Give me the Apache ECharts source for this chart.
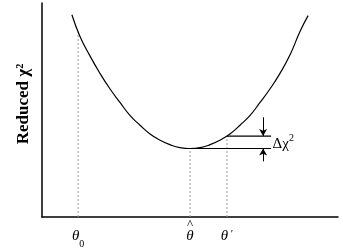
<!DOCTYPE html>
<html><head><meta charset="utf-8">
<script src="https://cdn.jsdelivr.net/npm/echarts@6/dist/echarts.min.js"></script>
<style>html,body{margin:0;padding:0;background:#fff}#c{width:343px;height:249px}</style>
</head><body><div id="c"></div>
<script>
// Curve (arbitrary theta units vs reduced chi^2 units)
const curveX = [10.1, 12.8, 16.2, 19.6, 23.0, 26.4, 29.7, 33.1, 36.5, 39.9, 43.2, 46.6, 50.0, 53.4, 56.8, 60.1, 63.5, 66.9, 70.3, 73.6, 77.0, 80.4, 83.8, 87.2, 89.9];
const curveY = [94.5, 84.5, 75.3, 67.1, 59.8, 53.4, 47.5, 42.9, 38.8, 35.9, 33.8, 32.4, 32.0, 32.4, 33.8, 35.9, 38.8, 42.9, 47.5, 53.4, 59.8, 67.1, 75.8, 86.8, 94.1];
// Marked parameter values and labels
const tickValues = [12.2, 50.0, 62.5];
const tickLabels = ['{h| }\n{t|θ}{s|0}', '{h|^}\n{t|θ}', '{h| }\n{t|θ}{p| ′}'];
const tickCurveY = [86.5, 32.0, 37.8];
// Delta chi^2 construction
const deltaEndX = 77.4;
const arrowX = 74.7;
const arrowUpperFrom = 46.6;
const arrowLowerFrom = 26.0;
const deltaLabelPos = [81.5, 34.8];

const chart = echarts.init(document.getElementById('c'), null, {renderer: 'canvas'});
const serif = 'Liberation Serif, Times New Roman, serif';

const series = [{
  type: 'line', data: curveX.map((x, i) => [x, curveY[i]]),
  smooth: 0.5, showSymbol: false, lineStyle: {color: '#000', width: 1.2}, z: 5
}];
tickValues.forEach((x, i) => {
  series.push({type: 'line', data: [[x, 0], [x, tickCurveY[i]]], showSymbol: false,
    lineStyle: {color: '#999', width: 1, type: [2, 2]}, z: 2});
});
series.push({type: 'line', data: [[tickValues[1], tickCurveY[1]], [deltaEndX, tickCurveY[1]]], showSymbol: false,
  lineStyle: {color: '#000', width: 1.2}, z: 4});
series.push({type: 'line', data: [[tickValues[2], tickCurveY[2]], [deltaEndX, tickCurveY[2]]], showSymbol: false,
  lineStyle: {color: '#000', width: 1.2}, z: 4});
series.push({type: 'line', data: [], markLine: {
  silent: true, symbol: ['none', 'arrow'], symbolSize: [6, 7], animation: false,
  lineStyle: {color: '#000', width: 1, type: 'solid'}, label: {show: false},
  data: [
    [{coord: [arrowX, arrowUpperFrom]}, {coord: [arrowX, tickCurveY[2]]}],
    [{coord: [arrowX, arrowLowerFrom]}, {coord: [arrowX, tickCurveY[1]]}]
  ]},
  markPoint: {symbol: 'circle', symbolSize: 0, animation: false,
    data: [{coord: deltaLabelPos, value: 'Δχ2'}],
    label: {show: true, position: 'inside', formatter: '{d|Δχ}{s|2}', color: '#000',
      rich: {d: {fontFamily: serif, fontSize: 15, color: '#000', verticalAlign: 'bottom', lineHeight: 18},
             s: {fontFamily: serif, fontSize: 10, color: '#000', verticalAlign: 'top', lineHeight: 18}}}}
});

const tStyle = {fontFamily: serif, fontStyle: 'italic', fontSize: 15, color: '#000', lineHeight: 12, verticalAlign: 'top'};
chart.setOption({
  animation: false,
  grid: {left: 42, right: 5, top: 3, bottom: 27, containLabel: false},
  xAxis: {type: 'value', min: 0, max: 100,
    axisLine: {show: true, onZero: false, lineStyle: {color: '#000', width: 1.5}},
    axisTick: {show: false}, splitLine: {show: false},
    axisLabel: {customValues: tickValues, margin: 3, color: '#000',
      formatter: v => { const i = tickValues.indexOf(v); return i >= 0 ? tickLabels[i] : ''; },
      rich: {
        h: {fontFamily: serif, fontSize: 13, lineHeight: 9, color: '#000', align: 'center'},
        t: tStyle,
        s: {fontFamily: serif, fontSize: 10, color: '#000', lineHeight: 20, verticalAlign: 'bottom'},
        p: {fontFamily: serif, fontSize: 11, color: '#000', lineHeight: 12, verticalAlign: 'top'}
      }}
  },
  yAxis: {type: 'value', min: 0, max: 100,
    name: 'Reduced χ²', nameLocation: 'middle', nameGap: 10, nameRotate: 90,
    nameTextStyle: {fontFamily: serif, fontWeight: 'bold', fontSize: 17, color: '#000', padding: [0, 0, 0, 12]},
    axisLine: {show: true, lineStyle: {color: '#000', width: 1.5}},
    axisTick: {show: false}, splitLine: {show: false}, axisLabel: {show: false}
  },
  series: series
});
</script></body></html>
